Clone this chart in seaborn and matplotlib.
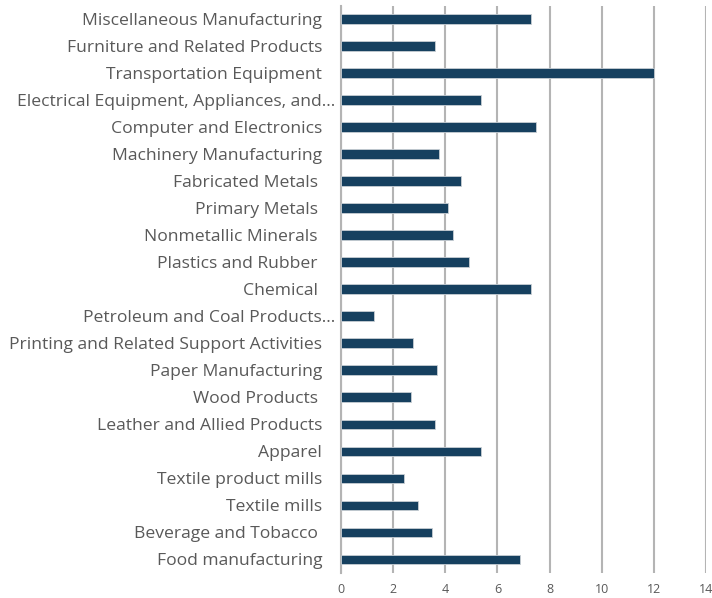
import matplotlib
matplotlib.use("Agg")
import matplotlib.pyplot as plt
import matplotlib.transforms as mtransforms
import seaborn as sns
import pandas as pd

categories = [
    "Miscellaneous Manufacturing",
    "Furniture and Related Products",
    "Transportation Equipment",
    "Electrical Equipment, Appliances, and\u2026",
    "Computer and Electronics",
    "Machinery Manufacturing",
    "Fabricated Metals ",
    "Primary Metals ",
    "Nonmetallic Minerals ",
    "Plastics and Rubber ",
    "Chemical ",
    "Petroleum and Coal Products\u2026",
    "Printing and Related Support Activities",
    "Paper Manufacturing",
    "Wood Products ",
    "Leather and Allied Products",
    "Apparel",
    "Textile product mills",
    "Textile mills",
    "Beverage and Tobacco ",
    "Food manufacturing",
]
values = [7.28, 3.62, 12.0, 5.38, 7.48, 3.75, 4.59, 4.12, 4.28, 4.92, 7.28,
          1.28, 2.77, 3.70, 2.67, 3.62, 5.36, 2.40, 2.97, 3.49, 6.88]
x_ticks = [0, 2, 4, 6, 8, 10, 12, 14]

df = pd.DataFrame({"category": categories, "value": values})

sns.set_theme(style="white")
plt.rcParams["font.family"] = ["Open Sans", "DejaVu Sans"]

fig = plt.figure(figsize=(7.12, 5.98), dpi=100)
ax = fig.add_axes([341 / 712, 1 - 573 / 598, (706 - 341) / 712, (573 - 5.5) / 598])

sns.barplot(data=df, x="value", y="category", orient="h", color="#16405f",
            width=0.36, edgecolor="#c8ced4", linewidth=0.6, saturation=1,
            ax=ax, zorder=3)

ax.set_xlim(0, 14)
ax.set_xticks(x_ticks)
ax.set_xticklabels([str(t) for t in x_ticks])
ax.set_xlabel("")
ax.set_ylabel("")
ax.grid(axis="x", color="#b4b4b4", linewidth=1.5, zorder=0)
ax.grid(axis="y", visible=False)
for side in ["top", "right", "bottom"]:
    ax.spines[side].set_visible(False)
ax.spines["left"].set_color("#b4b4b4")
ax.spines["left"].set_linewidth(1.5)

ax.tick_params(axis="y", length=0, pad=13.5, labelsize=12.6, labelcolor="#595959")
ax.tick_params(axis="x", length=0, pad=7, labelsize=9, labelcolor="#595959")

# truncated labels sit closer to the axis
shift = mtransforms.ScaledTranslation(13 / 100, 0, fig.dpi_scale_trans)
for lbl in ax.get_yticklabels():
    if lbl.get_text().endswith("\u2026"):
        lbl.set_transform(lbl.get_transform() + shift)

fig.savefig("out.png", dpi=100, facecolor="white")
